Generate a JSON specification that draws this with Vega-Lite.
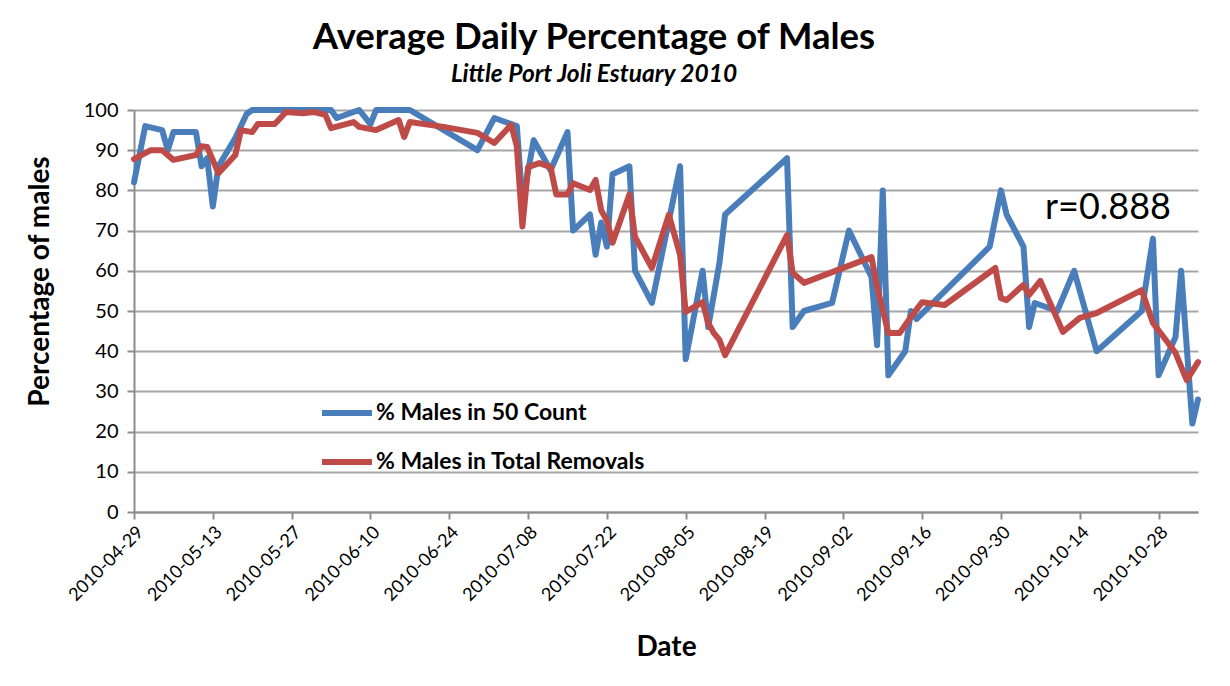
{
  "$schema": "https://vega.github.io/schema/vega-lite/v6.json",
  "width": 1064,
  "height": 402,
  "autosize": {"type": "none"},
  "padding": {"left": 134, "top": 110, "right": 32, "bottom": 174},
  "background": "white",
  "config": {"font": "Lato", "view": {"stroke": null}},
  "title": {
    "text": "Average Daily Percentage of Males",
    "subtitle": "Little Port Joli Estuary 2010",
    "fontSize": 36.5,
    "fontWeight": "bold",
    "color": "black",
    "subtitleFontSize": 24.5,
    "subtitleFontStyle": "italic",
    "subtitleFontWeight": "bold",
    "subtitleColor": "black",
    "subtitlePadding": 6,
    "anchor": "middle",
    "frame": "group",
    "dx": -72,
    "offset": 14
  },
  "datasets": {
    "series": [
      {"date": "2010-04-29", "series": "% Males in 50 Count", "value": 82},
      {"date": "2010-05-01", "series": "% Males in 50 Count", "value": 96},
      {"date": "2010-05-04", "series": "% Males in 50 Count", "value": 95},
      {"date": "2010-05-05", "series": "% Males in 50 Count", "value": 90},
      {"date": "2010-05-06", "series": "% Males in 50 Count", "value": 94.5},
      {"date": "2010-05-10", "series": "% Males in 50 Count", "value": 94.5},
      {"date": "2010-05-11", "series": "% Males in 50 Count", "value": 86},
      {"date": "2010-05-12", "series": "% Males in 50 Count", "value": 88},
      {"date": "2010-05-13", "series": "% Males in 50 Count", "value": 76},
      {"date": "2010-05-14", "series": "% Males in 50 Count", "value": 86},
      {"date": "2010-05-17", "series": "% Males in 50 Count", "value": 93},
      {"date": "2010-05-19", "series": "% Males in 50 Count", "value": 99},
      {"date": "2010-05-20", "series": "% Males in 50 Count", "value": 100},
      {"date": "2010-06-03", "series": "% Males in 50 Count", "value": 100},
      {"date": "2010-06-04", "series": "% Males in 50 Count", "value": 98},
      {"date": "2010-06-08", "series": "% Males in 50 Count", "value": 100},
      {"date": "2010-06-10", "series": "% Males in 50 Count", "value": 96.5},
      {"date": "2010-06-11", "series": "% Males in 50 Count", "value": 100},
      {"date": "2010-06-17", "series": "% Males in 50 Count", "value": 100},
      {"date": "2010-06-29", "series": "% Males in 50 Count", "value": 90},
      {"date": "2010-07-02", "series": "% Males in 50 Count", "value": 98},
      {"date": "2010-07-06", "series": "% Males in 50 Count", "value": 96},
      {"date": "2010-07-07", "series": "% Males in 50 Count", "value": 77},
      {"date": "2010-07-09", "series": "% Males in 50 Count", "value": 92.5},
      {"date": "2010-07-12", "series": "% Males in 50 Count", "value": 85},
      {"date": "2010-07-15", "series": "% Males in 50 Count", "value": 94.5},
      {"date": "2010-07-16", "series": "% Males in 50 Count", "value": 70},
      {"date": "2010-07-19", "series": "% Males in 50 Count", "value": 74},
      {"date": "2010-07-20", "series": "% Males in 50 Count", "value": 64},
      {"date": "2010-07-21", "series": "% Males in 50 Count", "value": 72},
      {"date": "2010-07-22", "series": "% Males in 50 Count", "value": 66},
      {"date": "2010-07-23", "series": "% Males in 50 Count", "value": 84},
      {"date": "2010-07-26", "series": "% Males in 50 Count", "value": 86},
      {"date": "2010-07-27", "series": "% Males in 50 Count", "value": 60},
      {"date": "2010-07-30", "series": "% Males in 50 Count", "value": 52},
      {"date": "2010-08-04", "series": "% Males in 50 Count", "value": 86},
      {"date": "2010-08-05", "series": "% Males in 50 Count", "value": 38},
      {"date": "2010-08-08", "series": "% Males in 50 Count", "value": 60},
      {"date": "2010-08-09", "series": "% Males in 50 Count", "value": 46},
      {"date": "2010-08-11", "series": "% Males in 50 Count", "value": 62},
      {"date": "2010-08-12", "series": "% Males in 50 Count", "value": 74},
      {"date": "2010-08-23", "series": "% Males in 50 Count", "value": 88},
      {"date": "2010-08-24", "series": "% Males in 50 Count", "value": 46},
      {"date": "2010-08-26", "series": "% Males in 50 Count", "value": 50},
      {"date": "2010-08-31", "series": "% Males in 50 Count", "value": 52},
      {"date": "2010-09-03", "series": "% Males in 50 Count", "value": 70},
      {"date": "2010-09-07", "series": "% Males in 50 Count", "value": 58.5},
      {"date": "2010-09-08", "series": "% Males in 50 Count", "value": 41.5},
      {"date": "2010-09-09", "series": "% Males in 50 Count", "value": 80},
      {"date": "2010-09-10", "series": "% Males in 50 Count", "value": 34},
      {"date": "2010-09-13", "series": "% Males in 50 Count", "value": 40},
      {"date": "2010-09-14", "series": "% Males in 50 Count", "value": 50},
      {"date": "2010-09-15", "series": "% Males in 50 Count", "value": 48},
      {"date": "2010-09-28", "series": "% Males in 50 Count", "value": 66},
      {"date": "2010-09-30", "series": "% Males in 50 Count", "value": 80},
      {"date": "2010-10-01", "series": "% Males in 50 Count", "value": 74},
      {"date": "2010-10-04", "series": "% Males in 50 Count", "value": 66},
      {"date": "2010-10-05", "series": "% Males in 50 Count", "value": 46},
      {"date": "2010-10-06", "series": "% Males in 50 Count", "value": 52},
      {"date": "2010-10-10", "series": "% Males in 50 Count", "value": 50},
      {"date": "2010-10-13", "series": "% Males in 50 Count", "value": 60},
      {"date": "2010-10-17", "series": "% Males in 50 Count", "value": 40},
      {"date": "2010-10-25", "series": "% Males in 50 Count", "value": 50},
      {"date": "2010-10-27", "series": "% Males in 50 Count", "value": 68},
      {"date": "2010-10-28", "series": "% Males in 50 Count", "value": 34},
      {"date": "2010-10-31", "series": "% Males in 50 Count", "value": 43.5},
      {"date": "2010-11-01", "series": "% Males in 50 Count", "value": 60},
      {"date": "2010-11-03", "series": "% Males in 50 Count", "value": 22},
      {"date": "2010-11-04", "series": "% Males in 50 Count", "value": 28},
      {"date": "2010-04-29", "series": "% Males in Total Removals", "value": 87.8},
      {"date": "2010-05-02", "series": "% Males in Total Removals", "value": 90},
      {"date": "2010-05-04", "series": "% Males in Total Removals", "value": 90},
      {"date": "2010-05-06", "series": "% Males in Total Removals", "value": 87.6},
      {"date": "2010-05-10", "series": "% Males in Total Removals", "value": 88.8},
      {"date": "2010-05-11", "series": "% Males in Total Removals", "value": 91},
      {"date": "2010-05-12", "series": "% Males in Total Removals", "value": 90.8},
      {"date": "2010-05-14", "series": "% Males in Total Removals", "value": 84.3},
      {"date": "2010-05-17", "series": "% Males in Total Removals", "value": 88.8},
      {"date": "2010-05-18", "series": "% Males in Total Removals", "value": 95},
      {"date": "2010-05-20", "series": "% Males in Total Removals", "value": 94.5},
      {"date": "2010-05-21", "series": "% Males in Total Removals", "value": 96.5},
      {"date": "2010-05-24", "series": "% Males in Total Removals", "value": 96.5},
      {"date": "2010-05-26", "series": "% Males in Total Removals", "value": 99.5},
      {"date": "2010-05-29", "series": "% Males in Total Removals", "value": 99.2},
      {"date": "2010-05-31", "series": "% Males in Total Removals", "value": 99.5},
      {"date": "2010-06-02", "series": "% Males in Total Removals", "value": 98.8},
      {"date": "2010-06-03", "series": "% Males in Total Removals", "value": 95.5},
      {"date": "2010-06-07", "series": "% Males in Total Removals", "value": 97},
      {"date": "2010-06-08", "series": "% Males in Total Removals", "value": 95.8},
      {"date": "2010-06-11", "series": "% Males in Total Removals", "value": 95},
      {"date": "2010-06-15", "series": "% Males in Total Removals", "value": 97.5},
      {"date": "2010-06-16", "series": "% Males in Total Removals", "value": 93.3},
      {"date": "2010-06-17", "series": "% Males in Total Removals", "value": 97},
      {"date": "2010-06-23", "series": "% Males in Total Removals", "value": 95.8},
      {"date": "2010-06-29", "series": "% Males in Total Removals", "value": 94.3},
      {"date": "2010-07-02", "series": "% Males in Total Removals", "value": 91.8},
      {"date": "2010-07-05", "series": "% Males in Total Removals", "value": 96.3},
      {"date": "2010-07-06", "series": "% Males in Total Removals", "value": 91},
      {"date": "2010-07-07", "series": "% Males in Total Removals", "value": 71},
      {"date": "2010-07-08", "series": "% Males in Total Removals", "value": 85.8},
      {"date": "2010-07-10", "series": "% Males in Total Removals", "value": 86.8},
      {"date": "2010-07-12", "series": "% Males in Total Removals", "value": 85.8},
      {"date": "2010-07-13", "series": "% Males in Total Removals", "value": 79},
      {"date": "2010-07-15", "series": "% Males in Total Removals", "value": 79},
      {"date": "2010-07-16", "series": "% Males in Total Removals", "value": 81.8},
      {"date": "2010-07-19", "series": "% Males in Total Removals", "value": 80.1},
      {"date": "2010-07-20", "series": "% Males in Total Removals", "value": 82.6},
      {"date": "2010-07-21", "series": "% Males in Total Removals", "value": 75},
      {"date": "2010-07-22", "series": "% Males in Total Removals", "value": 72.6},
      {"date": "2010-07-23", "series": "% Males in Total Removals", "value": 67},
      {"date": "2010-07-26", "series": "% Males in Total Removals", "value": 79},
      {"date": "2010-07-27", "series": "% Males in Total Removals", "value": 68.4},
      {"date": "2010-07-30", "series": "% Males in Total Removals", "value": 60.7},
      {"date": "2010-08-02", "series": "% Males in Total Removals", "value": 73.9},
      {"date": "2010-08-04", "series": "% Males in Total Removals", "value": 64},
      {"date": "2010-08-05", "series": "% Males in Total Removals", "value": 49.8},
      {"date": "2010-08-08", "series": "% Males in Total Removals", "value": 52.2},
      {"date": "2010-08-09", "series": "% Males in Total Removals", "value": 47},
      {"date": "2010-08-10", "series": "% Males in Total Removals", "value": 44.5},
      {"date": "2010-08-11", "series": "% Males in Total Removals", "value": 42.8},
      {"date": "2010-08-12", "series": "% Males in Total Removals", "value": 39},
      {"date": "2010-08-23", "series": "% Males in Total Removals", "value": 68.9},
      {"date": "2010-08-24", "series": "% Males in Total Removals", "value": 59.5},
      {"date": "2010-08-26", "series": "% Males in Total Removals", "value": 57},
      {"date": "2010-09-07", "series": "% Males in Total Removals", "value": 63.4},
      {"date": "2010-09-08", "series": "% Males in Total Removals", "value": 56},
      {"date": "2010-09-10", "series": "% Males in Total Removals", "value": 44.5},
      {"date": "2010-09-12", "series": "% Males in Total Removals", "value": 44.5},
      {"date": "2010-09-14", "series": "% Males in Total Removals", "value": 48.5},
      {"date": "2010-09-16", "series": "% Males in Total Removals", "value": 52.2},
      {"date": "2010-09-20", "series": "% Males in Total Removals", "value": 51.5},
      {"date": "2010-09-29", "series": "% Males in Total Removals", "value": 60.7},
      {"date": "2010-09-30", "series": "% Males in Total Removals", "value": 53.2},
      {"date": "2010-10-01", "series": "% Males in Total Removals", "value": 52.7},
      {"date": "2010-10-04", "series": "% Males in Total Removals", "value": 56.5},
      {"date": "2010-10-05", "series": "% Males in Total Removals", "value": 54},
      {"date": "2010-10-07", "series": "% Males in Total Removals", "value": 57.5},
      {"date": "2010-10-11", "series": "% Males in Total Removals", "value": 44.8},
      {"date": "2010-10-14", "series": "% Males in Total Removals", "value": 48.3},
      {"date": "2010-10-17", "series": "% Males in Total Removals", "value": 49.5},
      {"date": "2010-10-25", "series": "% Males in Total Removals", "value": 55.2},
      {"date": "2010-10-27", "series": "% Males in Total Removals", "value": 47},
      {"date": "2010-10-31", "series": "% Males in Total Removals", "value": 39.6},
      {"date": "2010-11-02", "series": "% Males in Total Removals", "value": 32.8},
      {"date": "2010-11-04", "series": "% Males in Total Removals", "value": 37.3}
    ],
    "annot": [
      {"date": "2010-10-19", "value": 75.5, "label": "r=0.888"}
    ]
  },
  "layer": [
    {
      "data": {"name": "series"},
      "mark": {"type": "line", "strokeWidth": 6, "strokeJoin": "round", "strokeCap": "round"},
      "encoding": {
        "x": {
          "field": "date",
          "type": "temporal",
          "scale": {
            "type": "utc",
            "domain": [
              {"year": 2010, "month": 4, "date": 29, "utc": true},
              {"year": 2010, "month": 11, "date": 4, "utc": true}
            ]
          },
          "axis": {
            "title": "Date",
            "titleFontSize": 28,
            "titleFontWeight": "bold",
            "titleColor": "black",
            "titlePadding": 29,
            "labelExpr": "utcFormat(datum.value, '%Y-%m-%d')",
            "labelAngle": -45,
            "labelFontSize": 18,
            "labelColor": "black",
            "labelPadding": 4,
            "labelOverlap": false,
            "labelFlush": false,
            "labelBound": false,
            "values": [
              {"year": 2010, "month": 4, "date": 29, "utc": true},
              {"year": 2010, "month": 5, "date": 13, "utc": true},
              {"year": 2010, "month": 5, "date": 27, "utc": true},
              {"year": 2010, "month": 6, "date": 10, "utc": true},
              {"year": 2010, "month": 6, "date": 24, "utc": true},
              {"year": 2010, "month": 7, "date": 8, "utc": true},
              {"year": 2010, "month": 7, "date": 22, "utc": true},
              {"year": 2010, "month": 8, "date": 5, "utc": true},
              {"year": 2010, "month": 8, "date": 19, "utc": true},
              {"year": 2010, "month": 9, "date": 2, "utc": true},
              {"year": 2010, "month": 9, "date": 16, "utc": true},
              {"year": 2010, "month": 9, "date": 30, "utc": true},
              {"year": 2010, "month": 10, "date": 14, "utc": true},
              {"year": 2010, "month": 10, "date": 28, "utc": true}
            ],
            "grid": false,
            "domainColor": "#8c8c8c",
            "domainWidth": 2,
            "tickColor": "#8c8c8c",
            "tickWidth": 2,
            "tickSize": 7
          }
        },
        "y": {
          "field": "value",
          "type": "quantitative",
          "scale": {"domain": [0, 100], "nice": false},
          "axis": {
            "title": "Percentage of males",
            "titleFontSize": 28,
            "titleFontWeight": "bold",
            "titleColor": "black",
            "titleX": -94,
            "titleY": 171,
            "titleBaseline": "middle",
            "labelFontSize": 20,
            "labelColor": "black",
            "labelPadding": 9,
            "values": [0, 10, 20, 30, 40, 50, 60, 70, 80, 90, 100],
            "grid": true,
            "gridColor": "#a6a6a6",
            "gridWidth": 2,
            "domainColor": "#8c8c8c",
            "domainWidth": 2,
            "tickColor": "#8c8c8c",
            "tickWidth": 2,
            "tickSize": 7
          }
        },
        "color": {
          "field": "series",
          "type": "nominal",
          "scale": {
            "domain": ["% Males in 50 Count", "% Males in Total Removals"],
            "range": ["#4a7ebb", "#be4b48"]
          },
          "legend": {
            "orient": "none",
            "legendX": 185,
            "legendY": 275,
            "title": null,
            "padding": 0,
            "symbolType": "stroke",
            "symbolSize": 2500,
            "symbolStrokeWidth": 6,
            "labelFontSize": 23,
            "labelFontWeight": "bold",
            "labelColor": "black",
            "labelLimit": 0,
            "labelOffset": 1,
            "rowPadding": 9
          }
        }
      }
    },
    {
      "data": {"name": "annot"},
      "mark": {"type": "text", "fontSize": 36, "align": "center", "baseline": "middle", "color": "black"},
      "encoding": {
        "x": {"field": "date", "type": "temporal"},
        "y": {"field": "value", "type": "quantitative"},
        "text": {"field": "label"}
      }
    }
  ]
}
